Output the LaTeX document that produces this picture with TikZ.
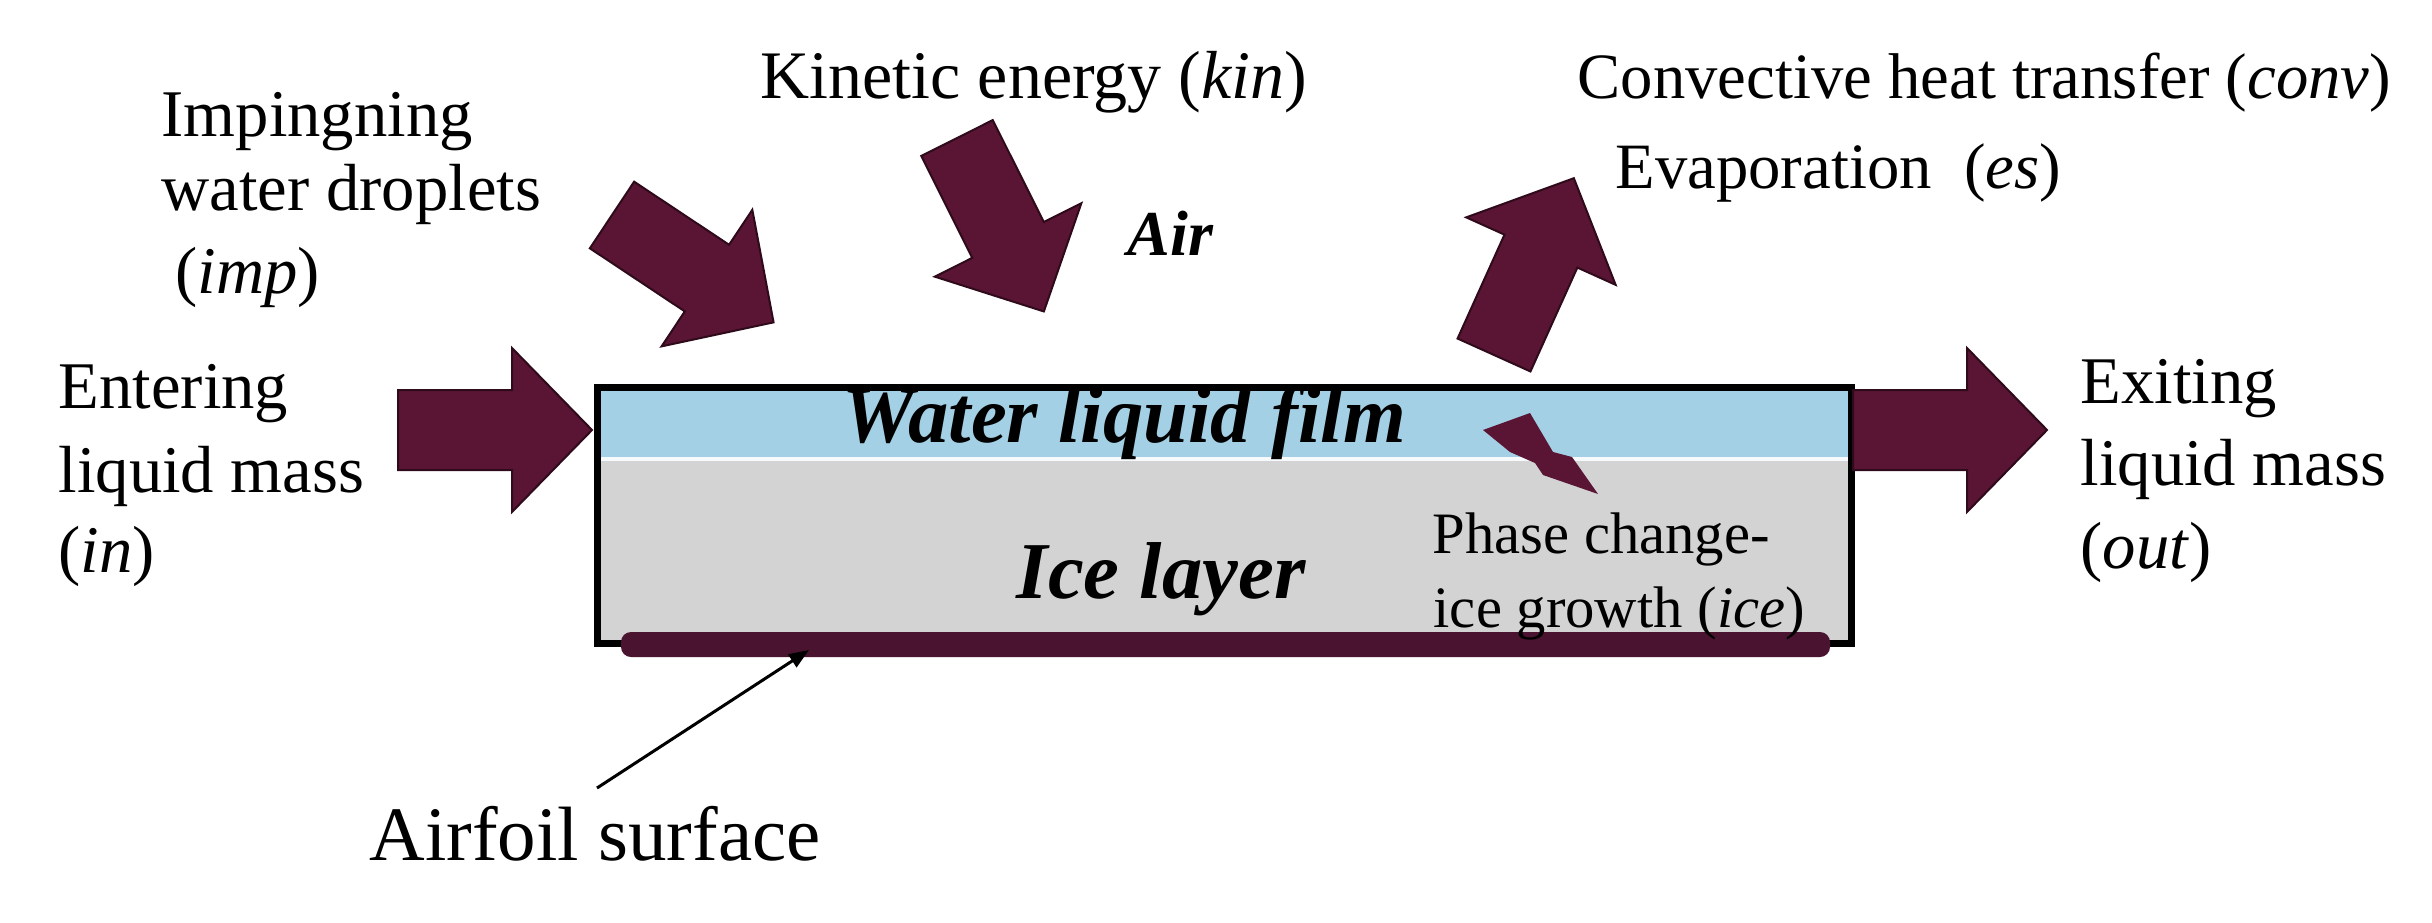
\documentclass[tikz,border=0pt]{standalone}
\usepackage{fontspec}
\setmainfont{Liberation Serif}
\usetikzlibrary{arrows.meta}
\definecolor{maroon}{HTML}{5A1535}
\definecolor{maroonedge}{HTML}{2E0A1A}
\definecolor{barcol}{HTML}{4A1430}
\definecolor{waterblue}{HTML}{A3D0E4}
\definecolor{icegray}{HTML}{D3D3D3}
\begin{document}
\begin{tikzpicture}[x=0.3pt,y=-0.3pt,
  bigarrow/.pic={\filldraw[fill=maroon,draw=maroonedge,line width=0.6pt,line join=miter]
     (0,-40) -- (114,-40) -- (114,-82) -- (194,0) -- (114,82) -- (114,40) -- (0,40) -- cycle;},
  lbl/.style={inner sep=0pt, anchor=base west, font=\fontsize{20pt}{24pt}\selectfont},
  toplbl/.style={lbl, font=\fontsize{19.4pt}{24pt}\selectfont},
  smalllbl/.style={lbl, font=\fontsize{17.6pt}{22pt}\selectfont},
  biglbl/.style={lbl, font=\fontsize{23.1pt}{28pt}\selectfont},
  layerlbl/.style={lbl, font=\fontsize{24.2pt}{28pt}\selectfont\bfseries\itshape},
  pointer/.style={line width=0.9pt, -{Triangle[length=6pt,width=4.5pt]}}
]
\useasboundingbox (0,0) rectangle (2432,922);

% named coordinates
\coordinate (in-tail) at (398,430);
\coordinate (out-tail) at (1853,430);
\coordinate (imp-tail) at (612,215);
\coordinate (kin-tail) at (957,138);
\coordinate (es-tail) at (1494,355);
\coordinate (ptr-start) at (597,788);
\coordinate (ptr-end) at (809,650);

% control volume
\fill[waterblue] (597,387) rectangle (1851,457);
\fill[white!90!waterblue] (597,457) rectangle (1851,461);
\fill[icegray] (597,461) rectangle (1851,643);
\draw[line width=2.1pt] (597,387) rectangle (1851,643);

% airfoil surface bar
\fill[barcol, rounded corners=3pt] (621,632) rectangle (1830,657);

% big arrows
\pic at (in-tail) {bigarrow};
\pic at (out-tail) {bigarrow};
\pic[rotate=-33.6] at (imp-tail) {bigarrow};
\pic[rotate=-63.4] at (kin-tail) {bigarrow};
\pic[rotate=65.7] at (es-tail) {bigarrow};

% lightning bolt
\fill[maroon] (1483,430) -- (1530,413) -- (1553,452) -- (1572,457) -- (1598,494)
   -- (1543,475) -- (1535,463) -- (1510,452) -- cycle;

% labels
\node[lbl] (imp1) at (161,136) {Impingning};
\node[lbl] (imp2) at (161,210) {water droplets};
\node[lbl] (imp3) at (175,293) {(\textit{imp})};
\node[lbl, font=\fontsize{20.4pt}{24pt}\selectfont] (kin) at (760,98) {Kinetic energy (\textit{kin})};
\node[toplbl] (conv) at (1577,98) {Convective heat transfer (\textit{conv})};
\node[toplbl] (es) at (1615,188) {Evaporation\ \ (\textit{es})};
\node[lbl, font=\fontsize{19.2pt}{24pt}\selectfont\bfseries\itshape] (air) at (1127,255) {Air};
\node[lbl] (in1) at (58,408) {Entering};
\node[lbl] (in2) at (58,492) {liquid mass};
\node[lbl] (in3) at (58,572) {(\textit{in})};
\node[lbl] (out1) at (2080,403) {Exiting};
\node[lbl] (out2) at (2080,485) {liquid mass};
\node[lbl] (out3) at (2080,568) {(\textit{out})};
\node[layerlbl] (water) at (842,442) {Water liquid film};
\node[layerlbl] (ice) at (1016,598) {Ice layer};
\node[smalllbl] (ph1) at (1432,553) {Phase change-};
\node[smalllbl] (ph2) at (1433,627) {ice growth (\textit{ice})};
\node[biglbl] (airfoil) at (369,860) {Airfoil surface};

\draw[pointer] (ptr-start) -- (ptr-end);
\end{tikzpicture}
\end{document}
